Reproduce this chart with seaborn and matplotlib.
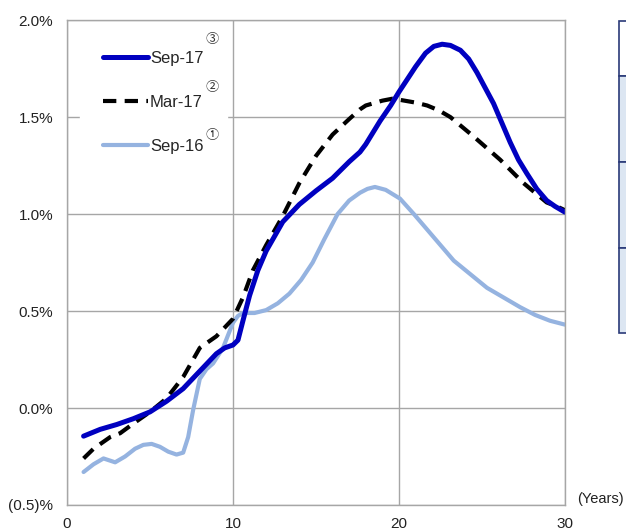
import pandas as pd
import seaborn as sns
import matplotlib.pyplot as plt
from matplotlib.patches import Rectangle

# values (years, yield %)
sep17_x = [1, 2, 3, 4, 5, 6, 7, 8, 9, 9.5, 10, 10.3, 10.6, 11, 11.5, 12, 13, 14, 15, 16, 17,
           17.65, 18, 18.86, 19.5, 20, 21, 21.6, 22.1, 22.6, 23.1, 23.7, 24.2, 24.7, 25.2, 25.7,
           26.2, 26.7, 27.2, 27.7, 28.3, 28.9, 29.4, 30]
sep17_y = [-0.145, -0.11, -0.085, -0.055, -0.02, 0.035, 0.10, 0.19, 0.28, 0.31, 0.325, 0.35, 0.45,
           0.58, 0.71, 0.81, 0.96, 1.05, 1.12, 1.185, 1.27, 1.32, 1.36, 1.48, 1.56, 1.63, 1.76,
           1.83, 1.865, 1.876, 1.87, 1.845, 1.80, 1.73, 1.65, 1.57, 1.47, 1.37, 1.28, 1.21, 1.13,
           1.07, 1.04, 1.01]

mar17_x = [1, 1.6, 2.6, 3.2, 4, 5, 6, 7, 8, 9, 10, 10.6, 11.2, 12, 12.4, 13, 14, 15, 16, 17,
           17.65, 18, 19, 19.6, 20, 21, 21.7, 22.4, 23.1, 23.8, 24.5, 25.3, 26.1, 26.8, 27.5,
           28.2, 28.9, 29.5, 30]
mar17_y = [-0.26, -0.21, -0.15, -0.13, -0.08, -0.02, 0.05, 0.16, 0.31, 0.37, 0.46, 0.57, 0.71,
           0.84, 0.90, 0.99, 1.16, 1.30, 1.41, 1.49, 1.54, 1.56, 1.585, 1.595, 1.59, 1.575, 1.56,
           1.535, 1.50, 1.45, 1.40, 1.34, 1.28, 1.22, 1.16, 1.11, 1.06, 1.04, 1.02]

sep16_x = [1, 1.6, 2.2, 2.9, 3.5, 4.1, 4.6, 5.1, 5.6, 6.1, 6.6, 7.0, 7.3, 7.6, 8.0, 8.4, 8.8,
           9.4, 10.0, 10.3, 10.6, 11.3, 12.0, 12.7, 13.4, 14.1, 14.8, 15.5, 16.3, 17, 17.65, 18.1,
           18.55, 19.2, 20.06, 20.9, 21.7, 22.5, 23.3, 24.3, 25.3, 26.3, 27.3, 28.2, 29.1, 30]
sep16_y = [-0.33, -0.29, -0.26, -0.28, -0.25, -0.21, -0.19, -0.185, -0.20, -0.225, -0.24, -0.23,
           -0.15, -0.01, 0.15, 0.20, 0.23, 0.31, 0.44, 0.475, 0.49, 0.49, 0.505, 0.54, 0.59, 0.66,
           0.75, 0.87, 1.00, 1.07, 1.11, 1.13, 1.14, 1.125, 1.08, 1.00, 0.92, 0.84, 0.76, 0.69, 0.62,
           0.57, 0.52, 0.48, 0.45, 0.43]

labels = ['Sep-17', 'Mar-17', 'Sep-16']
marks = ['\u2462', '\u2461', '\u2460']
y_ticks = [-0.5, 0.0, 0.5, 1.0, 1.5, 2.0]
y_tick_labels = ['(0.5)%', '0.0%', '0.5%', '1.0%', '1.5%', '2.0%']
x_ticks = [0, 10, 20, 30]

sns.set_style('white')
plt.rcParams['font.family'] = ['Liberation Sans', 'DejaVu Sans']

fig = plt.figure(figsize=(6.26, 5.31), dpi=100)
ax = fig.add_axes([0.107, 0.049, 0.7955, 0.913])

grid_c = '#a6a6a6'
sns.lineplot(x=sep16_x, y=sep16_y, ax=ax, color='#95b3e0', linewidth=3.0, label=labels[2])
sns.lineplot(x=mar17_x, y=mar17_y, ax=ax, color='black', linewidth=3.0, label=labels[1])
sns.lineplot(x=sep17_x, y=sep17_y, ax=ax, color='#0000c0', linewidth=3.6, label=labels[0])
ax.lines[1].set_dashes((3.2, 2.0))
ax.lines[1].set_dash_capstyle('butt')

ax.set_xlim(0, 30)
ax.set_ylim(-0.5, 2.0)
ax.set_xticks(x_ticks)
ax.set_yticks(y_ticks)
ax.set_yticklabels(y_tick_labels)
ax.grid(True, color=grid_c, linewidth=1.0)
for s in ax.spines.values():
    s.set_color(grid_c)
    s.set_linewidth(1.0)
ax.tick_params(axis='y', length=4, color=grid_c, pad=6, labelsize=11, labelcolor='#222222')
ax.tick_params(axis='x', length=0, pad=9, labelsize=11, labelcolor='#222222')

handles = ax.get_lines()
leg = ax.legend([handles[2], handles[1], handles[0]], labels, loc='upper left',
                bbox_to_anchor=(0.026, 0.984), borderaxespad=0, frameon=True, fontsize=12,
                labelspacing=1.72, handlelength=2.7, handletextpad=0.1, borderpad=1.4)
leg.get_frame().set_facecolor('white')
leg.get_frame().set_edgecolor('white')
leg.get_frame().set_alpha(1.0)

for i, m in enumerate(marks):
    fig.text(212 / 626, 1 - (40 + 48 * i) / 531, m, fontsize=9.5, ha='center', va='center',
             color='#333333', family=['Noto Sans CJK JP', 'DejaVu Sans'])

fig.text(600 / 626, 1 - 499 / 531, '(Years)', fontsize=10.5, ha='center', va='center', color='#222222')

# partial table box at the right edge
edges = [21, 76, 162, 248, 333]
for i in range(4):
    y0 = 1 - edges[i + 1] / 531
    h = (edges[i + 1] - edges[i]) / 531
    fig.patches.append(Rectangle((619 / 626, y0), 0.05, h, transform=fig.transFigure,
                                 facecolor='white' if i == 0 else '#dce6f2',
                                 edgecolor='#2a3a78', linewidth=1.2))

fig.savefig('out.png', dpi=100)
